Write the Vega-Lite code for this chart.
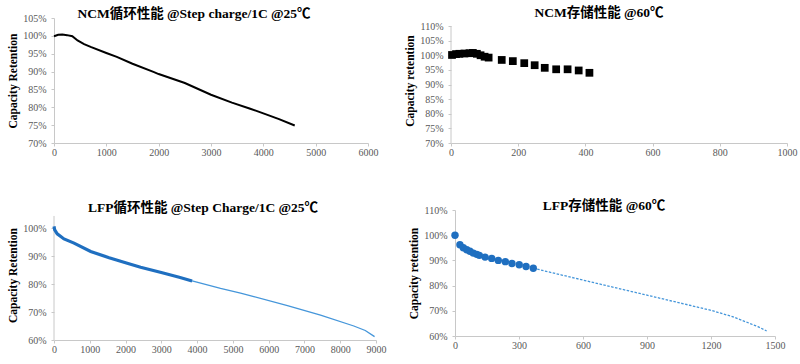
{
  "$schema": "https://vega.github.io/schema/vega-lite/v6.json",
  "background": "white",
  "padding": {"left": 7, "top": 6, "right": 5, "bottom": 0},
  "datasets": {
    "ncm_cycle": [
      {"cycle": 0, "retention": 99.9}, {"cycle": 80, "retention": 100.3}, {"cycle": 160, "retention": 100.4},
      {"cycle": 250, "retention": 100.2}, {"cycle": 350, "retention": 99.9}, {"cycle": 450, "retention": 98.7},
      {"cycle": 575, "retention": 97.7}, {"cycle": 700, "retention": 96.9}, {"cycle": 1000, "retention": 95.2},
      {"cycle": 1200, "retention": 94.1}, {"cycle": 1500, "retention": 92.2}, {"cycle": 1900, "retention": 89.9},
      {"cycle": 2000, "retention": 89.3}, {"cycle": 2500, "retention": 86.8}, {"cycle": 3000, "retention": 83.5},
      {"cycle": 3400, "retention": 81.3}, {"cycle": 3750, "retention": 79.6}, {"cycle": 4000, "retention": 78.3},
      {"cycle": 4300, "retention": 76.7}, {"cycle": 4600, "retention": 74.9}
    ],
    "ncm_storage": [
      {"day": 3, "retention": 100.1}, {"day": 15, "retention": 100.4}, {"day": 25, "retention": 100.5},
      {"day": 40, "retention": 100.6}, {"day": 55, "retention": 100.7}, {"day": 65, "retention": 100.8},
      {"day": 77, "retention": 100.5}, {"day": 88, "retention": 100.0}, {"day": 100, "retention": 99.5},
      {"day": 112, "retention": 99.2}, {"day": 151, "retention": 98.4}, {"day": 184, "retention": 98.0},
      {"day": 218, "retention": 97.3}, {"day": 249, "retention": 96.6}, {"day": 279, "retention": 95.7},
      {"day": 313, "retention": 95.2}, {"day": 347, "retention": 95.2}, {"day": 380, "retention": 94.8},
      {"day": 412, "retention": 94.0}
    ],
    "ncm_storage_axis": [{"day": 0, "low": 70, "high": 110}],
    "lfp_cycle_measured": [
      {"cycle": 0, "retention": 100.6}, {"cycle": 20, "retention": 99.3}, {"cycle": 90, "retention": 97.9},
      {"cycle": 280, "retention": 96.1}, {"cycle": 560, "retention": 94.6}, {"cycle": 1025, "retention": 91.6},
      {"cycle": 1540, "retention": 89.4}, {"cycle": 2000, "retention": 87.6}, {"cycle": 2420, "retention": 86.0},
      {"cycle": 3025, "retention": 84.0}, {"cycle": 3500, "retention": 82.4}, {"cycle": 3860, "retention": 81.1}
    ],
    "lfp_cycle_fit": [
      {"cycle": 3860, "retention": 81.1}, {"cycle": 4655, "retention": 78.4}, {"cycle": 5215, "retention": 76.7},
      {"cycle": 5585, "retention": 75.5}, {"cycle": 6525, "retention": 72.3}, {"cycle": 7450, "retention": 68.9},
      {"cycle": 8380, "retention": 65.0}, {"cycle": 8700, "retention": 63.4}, {"cycle": 8960, "retention": 61.2}
    ],
    "lfp_cycle_axis": [{"cycle": 0, "low": 60, "high": 104.3}],
    "lfp_storage": [
      {"day": 0, "retention": 100.0}, {"day": 23, "retention": 96.2}, {"day": 39, "retention": 95.0},
      {"day": 55, "retention": 94.2}, {"day": 70, "retention": 93.6}, {"day": 86, "retention": 92.9},
      {"day": 102, "retention": 92.4}, {"day": 114, "retention": 92.0}, {"day": 141, "retention": 91.3},
      {"day": 172, "retention": 90.8}, {"day": 203, "retention": 90.0}, {"day": 236, "retention": 89.5},
      {"day": 267, "retention": 88.8}, {"day": 301, "retention": 88.3}, {"day": 333, "retention": 87.6},
      {"day": 367, "retention": 86.9}
    ],
    "lfp_storage_fit": [
      {"day": 367, "retention": 86.9}, {"day": 500, "retention": 84.2}, {"day": 600, "retention": 82.2},
      {"day": 700, "retention": 80.2}, {"day": 800, "retention": 78.2}, {"day": 900, "retention": 76.2},
      {"day": 1000, "retention": 74.2}, {"day": 1100, "retention": 72.2}, {"day": 1200, "retention": 70.2},
      {"day": 1300, "retention": 67.7}, {"day": 1367, "retention": 65.5}, {"day": 1420, "retention": 63.7},
      {"day": 1461, "retention": 62.0}
    ]
  },
  "config": {
    "font": "Liberation Serif",
    "view": {"stroke": null},
    "axis": {
      "grid": false,
      "domainColor": "#C8C8C8",
      "tickColor": "#C8C8C8",
      "tickSize": 3,
      "labelFont": "Liberation Serif",
      "labelFontSize": 10,
      "labelColor": "#595959",
      "labelPadding": 1,
      "labelOverlap": false,
      "labelFlush": false,
      "titleFont": "Liberation Serif",
      "titleFontSize": 11.5,
      "titleFontWeight": "bold",
      "titleColor": "#000000",
      "titlePadding": 4
    },
    "axisY": {"labelPadding": 5},
    "title": {
      "font": "Liberation Serif, Noto Sans CJK SC",
      "fontSize": 13.5,
      "fontWeight": "bold",
      "color": "#000000",
      "anchor": "middle"
    }
  },
  "spacing": 42,
  "vconcat": [
    {
      "spacing": 26,
      "hconcat": [
        {
          "width": 314,
          "height": 125,
          "title": {"text": "NCM循环性能 @Step charge/1C @25℃", "dx": -17, "offset": -7},
          "data": {"name": "ncm_cycle"},
          "mark": {"type": "line", "color": "#000000", "strokeWidth": 2},
          "encoding": {
            "x": {"field": "cycle", "type": "quantitative", "scale": {"domain": [0, 6000], "nice": false},
                  "axis": {"title": null, "values": [0, 1000, 2000, 3000, 4000, 5000, 6000], "format": "d", "labelOverlap": false, "labelFlush": false, "labelFont": "Liberation Serif"}},
            "y": {"field": "retention", "type": "quantitative", "scale": {"domain": [70, 105], "nice": false, "zero": false},
                  "axis": {"title": "Capacity Retention", "values": [70, 75, 80, 85, 90, 95, 100, 105], "labelExpr": "datum.value + '%'", "labelOverlap": false, "labelFont": "Liberation Serif", "titleFont": "Liberation Serif"}}
          }
        },
        {
          "width": 336,
          "height": 125,
          "title": {"text": "NCM存储性能 @60℃", "dx": -20, "offset": -1.5},
          "layer": [
            {
              "data": {"name": "ncm_storage_axis"},
              "mark": {"type": "rule", "color": "#C8C8C8", "strokeWidth": 1},
              "encoding": {
                "x": {"field": "day", "type": "quantitative", "scale": {"domain": [0, 1000], "nice": false},
                      "axis": {"title": null, "values": [0, 200, 400, 600, 800, 1000], "format": "d", "labelOverlap": false, "labelFlush": false, "labelFont": "Liberation Serif"}},
                "y": {"field": "low", "type": "quantitative", "scale": {"domain": [70, 112.74], "nice": false, "zero": false},
                      "axis": {"title": "Capacity retention", "domain": false, "values": [70, 75, 80, 85, 90, 95, 100, 105, 110], "labelExpr": "datum.value + '%'", "labelOverlap": false, "labelFont": "Liberation Serif", "titleFont": "Liberation Serif"}},
                "y2": {"field": "high"}
              }
            },
            {
              "data": {"name": "ncm_storage"},
              "mark": {"type": "square", "color": "#000000", "filled": true, "opacity": 1, "size": 60},
              "encoding": {
                "x": {"field": "day", "type": "quantitative", "scale": {"domain": [0, 1000], "nice": false},
                      "axis": {"title": null, "values": [0, 200, 400, 600, 800, 1000], "format": "d", "labelOverlap": false, "labelFlush": false, "labelFont": "Liberation Serif"}},
                "y": {"field": "retention", "type": "quantitative", "scale": {"domain": [70, 112.74], "nice": false, "zero": false},
                      "axis": {"title": "Capacity retention", "domain": false, "values": [70, 75, 80, 85, 90, 95, 100, 105, 110], "labelExpr": "datum.value + '%'", "labelOverlap": false, "labelFont": "Liberation Serif", "titleFont": "Liberation Serif"}}
              }
            }
          ]
        }
      ]
    },
    {
      "spacing": 22,
      "hconcat": [
        {
          "width": 322,
          "height": 130,
          "title": {"text": "LFP循环性能 @Step Charge/1C @25℃", "dx": -12, "offset": -4},
          "layer": [
            {
              "data": {"name": "lfp_cycle_axis"},
              "mark": {"type": "rule", "color": "#C8C8C8", "strokeWidth": 1},
              "encoding": {
                "x": {"field": "cycle", "type": "quantitative", "scale": {"domain": [0, 9000], "nice": false},
                      "axis": {"title": null, "values": [0, 1000, 2000, 3000, 4000, 5000, 6000, 7000, 8000, 9000], "format": "d", "labelOverlap": false, "labelFlush": false, "labelFont": "Liberation Serif"}},
                "y": {"field": "low", "type": "quantitative", "scale": {"domain": [60, 106.43], "nice": false, "zero": false},
                      "axis": {"title": "Capacity Retention", "domain": false, "values": [60, 70, 80, 90, 100], "labelExpr": "datum.value + '%'", "labelOverlap": false, "labelFont": "Liberation Serif", "titleFont": "Liberation Serif"}},
                "y2": {"field": "high"}
              }
            },
            {
              "data": {"name": "lfp_cycle_fit"},
              "mark": {"type": "line", "color": "#4596DA", "strokeWidth": 1.3},
              "encoding": {
                "x": {"field": "cycle", "type": "quantitative", "scale": {"domain": [0, 9000], "nice": false},
                      "axis": {"title": null, "values": [0, 1000, 2000, 3000, 4000, 5000, 6000, 7000, 8000, 9000], "format": "d", "labelOverlap": false, "labelFlush": false, "labelFont": "Liberation Serif"}},
                "y": {"field": "retention", "type": "quantitative", "scale": {"domain": [60, 106.43], "nice": false, "zero": false},
                      "axis": {"title": "Capacity Retention", "domain": false, "values": [60, 70, 80, 90, 100], "labelExpr": "datum.value + '%'", "labelOverlap": false, "labelFont": "Liberation Serif", "titleFont": "Liberation Serif"}}
              }
            },
            {
              "data": {"name": "lfp_cycle_measured"},
              "mark": {"type": "line", "color": "#1F6FC0", "strokeWidth": 3.2},
              "encoding": {
                "x": {"field": "cycle", "type": "quantitative", "scale": {"domain": [0, 9000], "nice": false},
                      "axis": {"title": null, "values": [0, 1000, 2000, 3000, 4000, 5000, 6000, 7000, 8000, 9000], "format": "d", "labelOverlap": false, "labelFlush": false, "labelFont": "Liberation Serif"}},
                "y": {"field": "retention", "type": "quantitative", "scale": {"domain": [60, 106.43], "nice": false, "zero": false},
                      "axis": {"title": "Capacity Retention", "domain": false, "values": [60, 70, 80, 90, 100], "labelExpr": "datum.value + '%'", "labelOverlap": false, "labelFont": "Liberation Serif", "titleFont": "Liberation Serif"}}
              }
            }
          ]
        },
        {
          "width": 320,
          "height": 126,
          "title": {"text": "LFP存储性能 @60℃", "dx": -11, "offset": -7.5},
          "layer": [
            {
              "data": {"name": "lfp_storage_fit"},
              "mark": {"type": "line", "color": "#4596DA", "strokeWidth": 1.3, "strokeDash": [2.5, 1.5]},
              "encoding": {
                "x": {"field": "day", "type": "quantitative", "scale": {"domain": [0, 1500], "nice": false},
                      "axis": {"title": null, "values": [0, 300, 600, 900, 1200, 1500], "format": "d", "labelOverlap": false, "labelFlush": false, "labelFont": "Liberation Serif"}},
                "y": {"field": "retention", "type": "quantitative", "scale": {"domain": [60, 110], "nice": false, "zero": false},
                      "axis": {"title": "Capacity retention", "values": [60, 70, 80, 90, 100, 110], "labelExpr": "datum.value + '%'", "labelOverlap": false, "labelFont": "Liberation Serif", "titleFont": "Liberation Serif"}}
              }
            },
            {
              "data": {"name": "lfp_storage"},
              "mark": {"type": "circle", "color": "#1F6FC0", "opacity": 1, "size": 55},
              "encoding": {
                "x": {"field": "day", "type": "quantitative", "scale": {"domain": [0, 1500], "nice": false},
                      "axis": {"title": null, "values": [0, 300, 600, 900, 1200, 1500], "format": "d", "labelOverlap": false, "labelFlush": false, "labelFont": "Liberation Serif"}},
                "y": {"field": "retention", "type": "quantitative", "scale": {"domain": [60, 110], "nice": false, "zero": false},
                      "axis": {"title": "Capacity retention", "values": [60, 70, 80, 90, 100, 110], "labelExpr": "datum.value + '%'", "labelOverlap": false, "labelFont": "Liberation Serif", "titleFont": "Liberation Serif"}}
              }
            }
          ]
        }
      ]
    }
  ]
}
